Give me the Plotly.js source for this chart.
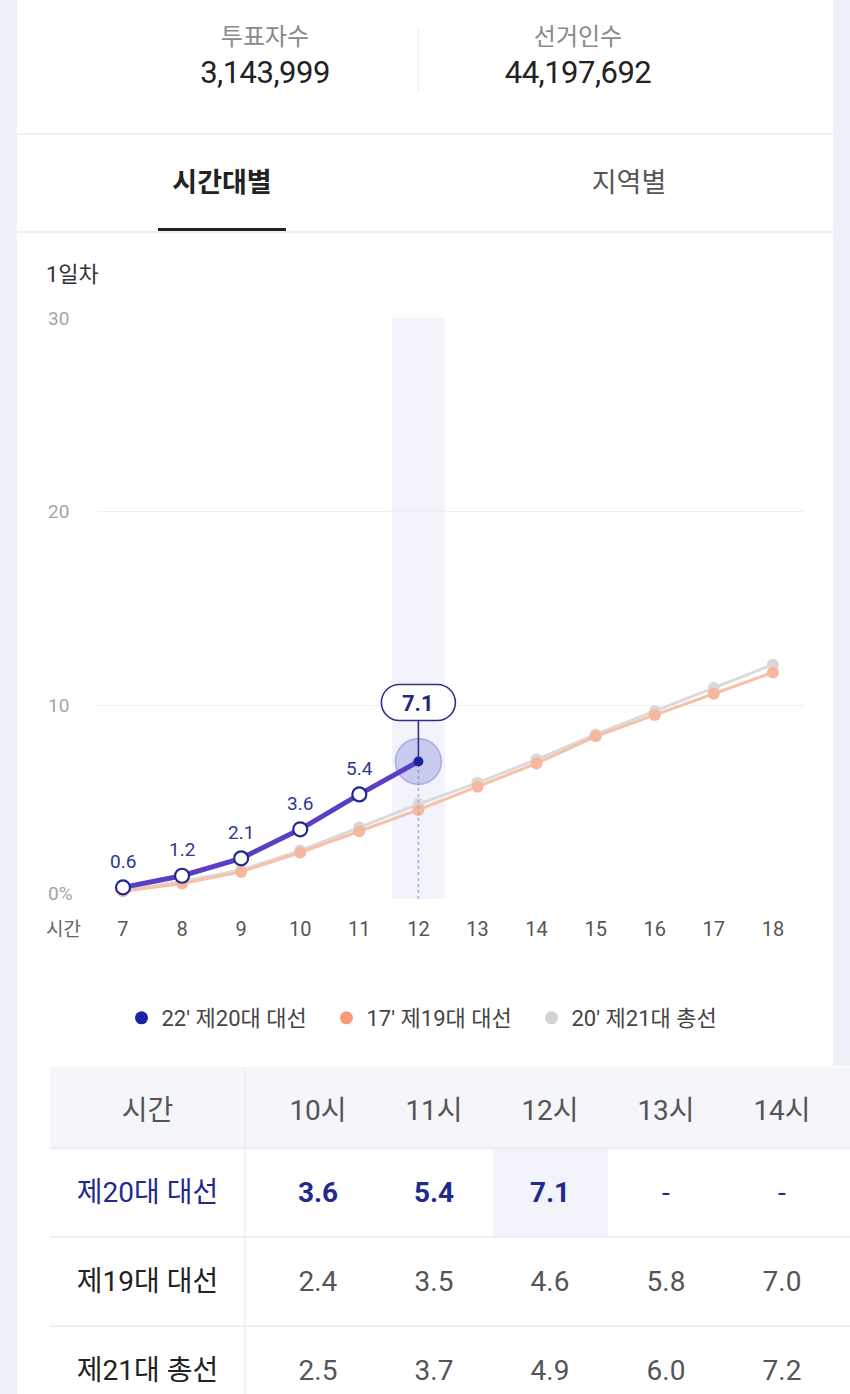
<!DOCTYPE html>
<html>
<head>
<meta charset="utf-8">
<script src="https://cdn.plot.ly/plotly-3.0.1.min.js"></script>
<style>
  html, body { margin:0; padding:0; width:850px; height:1394px; overflow:hidden; background:#eef1f7; }
  body { position:relative; font-family: Roboto, "Noto Sans CJK KR", sans-serif; }
  #card { position:absolute; left:17px; top:0; width:816px; height:1066px; background:#fff; }
  #lower { position:absolute; left:17px; top:1066px; width:833px; height:360px; background:#fff; }
  .stat { position:absolute; top:20px; width:300px; text-align:center; }
  .stat .lab { font-size:24px; color:#8a8a8a; line-height:34px; }
  .stat .num { font-size:31px; color:#222; line-height:38px; letter-spacing:-0.5px; }
  #divider { position:absolute; left:418px; top:28px; width:1px; height:64px; background:#eceef2; }
  #sep1 { position:absolute; left:17px; top:133px; width:816px; height:2px; background:#f0f1f4; }
  .tab { position:absolute; top:161px; font-size:27px; line-height:44px; text-align:center; width:300px; }
  #tab1 { left:72px; color:#222; font-weight:bold; }
  #tab2 { left:479px; color:#555; }
  #underline { position:absolute; left:158px; top:228px; width:128px; height:4px; background:#222; }
  #sep2 { position:absolute; left:17px; top:231px; width:816px; height:2px; background:#eef0f3; }
  #plot { position:absolute; left:0; top:0; }
</style>
</head>
<body>
<div id="card"></div>
<div id="lower"></div>
<div class="stat" style="left:115px"><div class="lab">투표자수</div><div class="num" id="voters"></div></div>
<div id="divider"></div>
<div class="stat" style="left:428px"><div class="lab">선거인수</div><div class="num" id="electors"></div></div>
<div id="sep1"></div>
<div class="tab" id="tab1">시간대별</div>
<div class="tab" id="tab2">지역별</div>
<div id="underline"></div>
<div id="sep2"></div>
<div id="plot"></div>
<script>
// ---- data ----
const voters = 3143999;
const electors = 44197692;
const hours = [7, 8, 9, 10, 11, 12, 13, 14, 15, 16, 17, 18];
const turnout22 = [0.6, 1.2, 2.1, 3.6, 5.4, 7.1];
const turnout17 = [0.4, 0.8, 1.4, 2.4, 3.5, 4.6, 5.8, 7.0, 8.4, 9.5, 10.6, 11.7];
const turnout20 = [0.5, 0.9, 1.5, 2.5, 3.7, 4.9, 6.0, 7.2, 8.5, 9.7, 10.9, 12.1];
const seriesNames = ["22' 제20대 대선", "17' 제19대 대선", "20' 제21대 총선"];
const rowNames = ["제20대 대선", "제19대 대선", "제21대 총선"];
const yTicks = [0, 10, 20, 30];
const yTickText = ["0%", "10", "20", "30"];
const tableHours = [10, 11, 12, 13, 14];

document.getElementById('voters').textContent = voters.toLocaleString('en-US');
document.getElementById('electors').textContent = electors.toLocaleString('en-US');

// ---- geometry helpers ----
const W = 850, H = 1420;
const fx = p => p / W;
const fy = p => (H - p) / H;

const NAVY = '#1f2a8c';
const PURPLE = '#5a3ec6';
const FONT = 'Roboto, "Noto Sans CJK KR", sans-serif';

const n22 = turnout22.length;
const h22 = hours.slice(0, n22);
const lastH = h22[n22 - 1], lastV = turnout22[n22 - 1];

const traces = [];
// 20' series (gray)
traces.push({x: hours, y: turnout20, mode: 'lines+markers', type: 'scatter', cliponaxis: false,
  line: {color: '#dadada', width: 3}, marker: {size: 12, color: '#d9d9d9'}, showlegend: false, hoverinfo: 'skip'});
// 17' series (orange)
traces.push({x: hours, y: turnout17, mode: 'lines+markers', type: 'scatter', cliponaxis: false,
  line: {color: '#f6c0a9', width: 3}, marker: {size: 12, color: '#f5b89e'}, showlegend: false, hoverinfo: 'skip'});
// dashed guide
traces.push({x: [lastH, lastH], y: [0, lastV], mode: 'lines', type: 'scatter',
  line: {color: '#a7a9d8', width: 1.5, dash: 'dot'}, showlegend: false, hoverinfo: 'skip'});
// halo
traces.push({x: [lastH], y: [lastV], mode: 'markers', type: 'scatter', cliponaxis: false,
  marker: {size: 46, color: 'rgba(118,126,212,0.34)', line: {color: 'rgba(118,126,212,0.5)', width: 1.5}},
  showlegend: false, hoverinfo: 'skip'});
// 22' series
traces.push({x: h22, y: turnout22, mode: 'lines+markers', type: 'scatter', cliponaxis: false,
  line: {color: PURPLE, width: 5},
  marker: {
    size: turnout22.map((v, i) => i === n22 - 1 ? 10 : 14),
    color: turnout22.map((v, i) => i === n22 - 1 ? '#1a239e' : '#ffffff'),
    opacity: 1,
    line: {color: NAVY, width: turnout22.map((v, i) => i === n22 - 1 ? 0 : 2.2)}
  }, showlegend: false, hoverinfo: 'skip'});
// legend-only entries
const legendColors = ['#1a22a8', '#f59a7a', '#d2d2d2'];
seriesNames.forEach((nm, i) => {
  traces.push({x: [null], y: [null], mode: 'markers', type: 'scatter', name: nm,
    marker: {size: 13, color: legendColors[i]}, hoverinfo: 'skip'});
});

// table (a blank first line pushes the text to mid-row)
const fmt = v => (v === undefined || v === null) ? '-' : v.toFixed(1);
const TS = 28;
const cellTxt = s => s === '' ? '' : '\u00A0<br><span style="font-size:' + TS + 'px">' + s + '</span>';
const headerVals = [[cellTxt('시간')], ['']].concat(tableHours.map(h => [cellTxt(h + '시')]), [['']]);
const cellVals = [rowNames.map(cellTxt), ['', '', '']];
const fontColors = [[NAVY, '#222', '#222'], ['#222', '#222', '#222']];
const fillColors = [['#fff', '#fff', '#fff'], ['#fff', '#fff', '#fff']];
tableHours.forEach(h => {
  const idx = hours.indexOf(h);
  const v22 = turnout22[idx];
  cellVals.push([cellTxt(v22 === undefined ? '-' : '<b>' + fmt(v22) + '</b>'),
    cellTxt(fmt(turnout17[idx])), cellTxt(fmt(turnout20[idx]))]);
  fontColors.push([NAVY, '#555', '#555']);
  fillColors.push([h === lastH ? '#f3f3fb' : '#fff', '#fff', '#fff']);
});
cellVals.push(['', '', '']);
fontColors.push(['#222', '#222', '#222']);
fillColors.push(['#fff', '#fff', '#fff']);

traces.push({
  type: 'table',
  domain: {x: [fx(50), 1], y: [fy(1415), fy(1067)]},
  columnwidth: [195, 15, 116, 116, 116, 116, 116, 10],
  header: {values: headerVals, height: 81, align: 'center',
    fill: {color: '#f5f6fa'}, line: {color: '#f5f6fa', width: 1},
    font: {family: FONT, size: 20, color: '#555'}},
  cells: {values: cellVals, height: 89, align: 'center',
    fill: {color: fillColors}, line: {color: '#ffffff', width: 1},
    font: {family: FONT, size: 21, color: fontColors}},
  hoverinfo: 'skip'
});

// annotations
const ann = [];
yTicks.forEach((t, i) => {
  ann.push({xref: 'paper', yref: 'y', x: fx(46), y: t, xanchor: 'left', yanchor: 'middle',
    yshift: t === 0 ? 6 : 0, text: yTickText[i], showarrow: false,
    font: {family: FONT, size: 19, color: '#a5a5a5'}});
});
ann.push({xref: 'paper', yref: 'paper', x: fx(44), y: fy(275), xanchor: 'left', yanchor: 'middle',
  text: '1일차', showarrow: false, font: {family: FONT, size: 22, color: '#333'}});
ann.push({xref: 'paper', yref: 'paper', x: fx(44), y: fy(929), xanchor: 'left', yanchor: 'middle',
  text: '시간', showarrow: false, font: {family: FONT, size: 19, color: '#666'}});
h22.forEach((h, i) => {
  if (i === n22 - 1) return;
  ann.push({x: h, y: turnout22[i], xref: 'x', yref: 'y', yshift: 26, text: fmt(turnout22[i]),
    showarrow: false, font: {family: FONT, size: 19, color: '#2b3890'}});
});
ann.push({x: lastH, y: lastV, xref: 'x', yref: 'y', yshift: 58, text: '<b>' + fmt(lastV) + '</b>',
  showarrow: false, font: {family: FONT, size: 22, color: '#1f2a80'}});

// bubble shape (pixel sized, anchored to last point)
const L = -37, R = 37, B = 41, T = 77, r = 18, cy = 59, k = 0.5523 * r;
const pill = `M ${L + r},${B} L ${R - r},${B} C ${R - r + k},${B} ${R},${cy - k} ${R},${cy} ` +
  `C ${R},${cy + k} ${R - r + k},${T} ${R - r},${T} L ${L + r},${T} ` +
  `C ${L + r - k},${T} ${L},${cy + k} ${L},${cy} C ${L},${cy - k} ${L + r - k},${B} ${L + r},${B} Z`;

const shapes = [
  {type: 'rect', xref: 'x', yref: 'y', x0: 11.55, x1: 12.45, y0: 0, y1: 30,
    fillcolor: '#f3f3fb', line: {width: 0}, layer: 'below'},
  {type: 'line', xref: 'x', yref: 'y', xsizemode: 'pixel', ysizemode: 'pixel', xanchor: lastH, yanchor: lastV,
    x0: 0, x1: 0, y0: 4, y1: B, line: {color: '#2d3385', width: 1.6}},
  {type: 'path', xref: 'x', yref: 'y', xsizemode: 'pixel', ysizemode: 'pixel', xanchor: lastH, yanchor: lastV,
    path: pill, fillcolor: '#ffffff', line: {color: '#2d3385', width: 1.6}},
  // table separators
  {type: 'line', xref: 'paper', yref: 'paper', x0: fx(50), x1: 1, y0: fy(1148), y1: fy(1148), line: {color: '#e9ebf1', width: 1.5}},
  {type: 'line', xref: 'paper', yref: 'paper', x0: fx(50), x1: 1, y0: fy(1237), y1: fy(1237), line: {color: '#e9ebf1', width: 1.5}},
  {type: 'line', xref: 'paper', yref: 'paper', x0: fx(50), x1: 1, y0: fy(1326), y1: fy(1326), line: {color: '#e9ebf1', width: 1.5}},
  {type: 'line', xref: 'paper', yref: 'paper', x0: fx(245), x1: fx(245), y0: fy(1067), y1: fy(1415), line: {color: '#eceef3', width: 1.5}}
];

const layout = {
  width: W, height: H, margin: {l: 0, r: 0, t: 0, b: 0},
  paper_bgcolor: 'rgba(0,0,0,0)', plot_bgcolor: 'rgba(0,0,0,0)',
  font: {family: FONT},
  showlegend: true,
  legend: {orientation: 'h', x: 0.5 + 4 / W, xanchor: 'center', y: fy(1018), yanchor: 'middle',
    font: {family: FONT, size: 22, color: '#444'}, bgcolor: 'rgba(0,0,0,0)',
    entrywidth: 160, entrywidthmode: 'pixels',
    itemclick: false, itemdoubleclick: false},
  xaxis: {domain: [fx(97), fx(803)], range: [6.56, 18.51], tickvals: hours, ticktext: hours.map(String),
    showgrid: false, zeroline: false, showline: false, ticks: '', ticklabelstandoff: 16,
    tickfont: {family: FONT, size: 20, color: '#555'}, fixedrange: true},
  yaxis: {domain: [fy(899), fy(318)], range: [0, 30], tickvals: yTicks, showticklabels: false,
    showgrid: true, gridcolor: '#efefef', gridwidth: 1, zeroline: false, showline: false, fixedrange: true},
  shapes: shapes,
  annotations: ann
};

Plotly.newPlot('plot', traces, layout, {displayModeBar: false, staticPlot: true});
</script>
</body>
</html>
